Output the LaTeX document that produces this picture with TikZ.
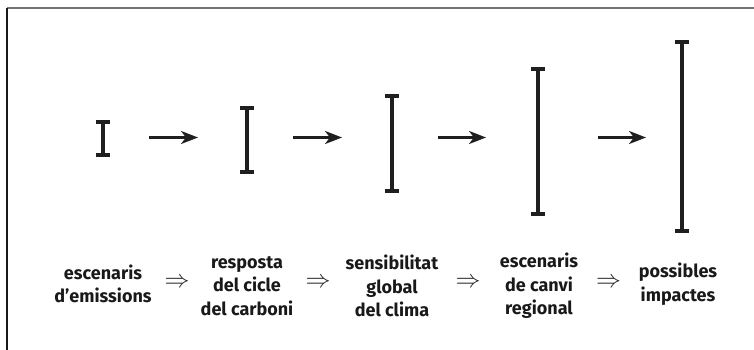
\documentclass[tikz,border=0pt]{standalone}
\usepackage{graphicx}
\usepackage{fontspec}
\setmainfont{Fira Sans}
\usetikzlibrary{arrows.meta}
\tikzset{
  barstem/.style={line width=3.8pt, draw=black!88},
  barcap/.style={fill=black!88},
  arr/.style={line width=2.6pt, draw=black!88, -{Stealth[length=17pt,width=13pt,inset=5pt]}, shorten >=-2pt},
  lbl/.style={align=center, font=\fontsize{18}{23.5}\selectfont\bfseries, text=black!90, inner sep=0pt},
  dbl/.style={text=black!85, inner sep=0pt},
}
\newcommand{\implarrow}{\resizebox{25pt}{!}{$\Rightarrow$}}
\newcommand{\errbar}[4]{% name, x, top, bottom
  \coordinate (#1t) at (#2,#3);
  \coordinate (#1b) at (#2,#4);
  \fill[barcap] ([xshift=-7pt]#1t) rectangle ([xshift=7pt,yshift=3.8pt]#1t);
  \fill[barcap] ([xshift=-7pt]#1b) rectangle ([xshift=7pt,yshift=-3.8pt]#1b);
  \draw[barstem] (#1t) -- (#1b);
}
\begin{document}
\begin{tikzpicture}[x=1pt,y=-1pt]
\useasboundingbox (0,0) rectangle (754,350);
\fill[white] (0,0) rectangle (754,350);
% frame
\draw[line width=1.8pt, draw=black!55] (7,8) -- (754,8);
\draw[line width=1.6pt, draw=black!90] (7,8) -- (7,350);
% error bars
\errbar{b1}{103}{124}{153}
\errbar{b2}{247}{109.7}{169.7}
\errbar{b3}{392}{97.7}{189.3}
\errbar{b4}{538}{70.7}{211.7}
\errbar{b5}{682}{44}{229.3}
% arrows
\coordinate (a1s) at (149,137.5); \coordinate (a1e) at (196,137.5);
\coordinate (a2s) at (293,137.5); \coordinate (a2e) at (340,137.5);
\coordinate (a3s) at (438,137.5); \coordinate (a3e) at (484,137.5);
\coordinate (a4s) at (598,137.5); \coordinate (a4e) at (644,137.5);
\draw[arr] (a1s) -- (a1e);
\draw[arr] (a2s) -- (a2e);
\draw[arr] (a3s) -- (a3e);
\draw[arr] (a4s) -- (a4e);
% labels
\node[lbl] (t1) at (103,284) {escenaris\\d’emissions};
\node[lbl] (t2) at (247,286) {resposta\\del cicle\\del carboni};
\node[lbl] (t3) at (392,286) {sensibilitat\\global\\del clima};
\node[lbl] (t4) at (539,286) {escenaris\\de canvi\\regional};
\node[lbl] (t5) at (678,284) {possibles\\impactes};
% implication arrows
\node[dbl] (d1) at (177,283) {\implarrow};
\node[dbl] (d2) at (318,283) {\implarrow};
\node[dbl] (d3) at (468,283) {\implarrow};
\node[dbl] (d4) at (608.5,283) {\implarrow};
\end{tikzpicture}
\end{document}
